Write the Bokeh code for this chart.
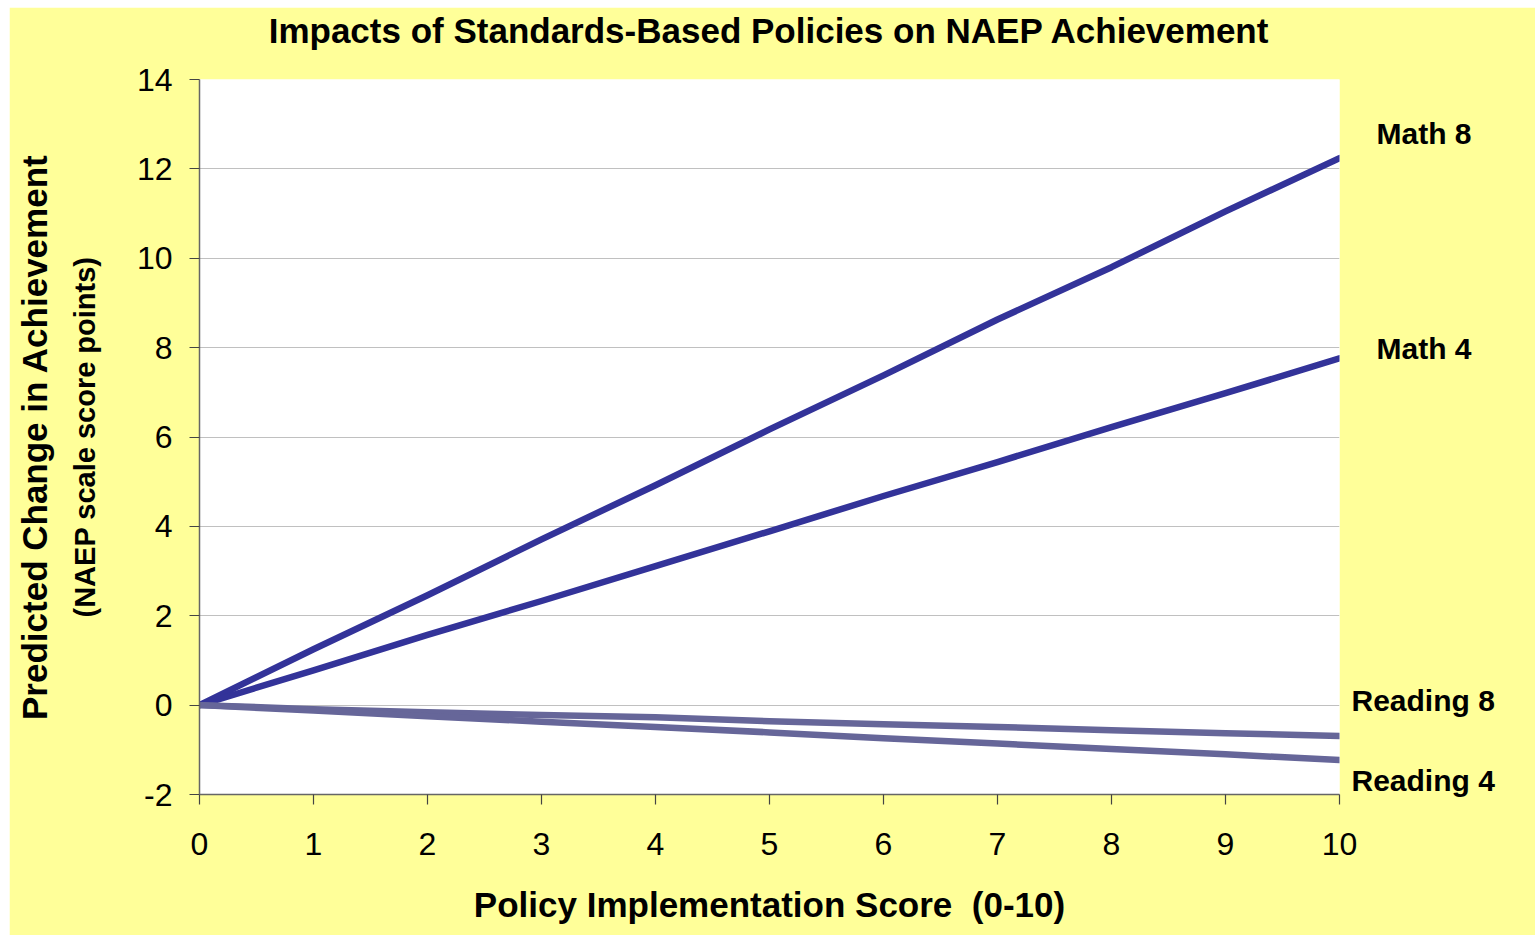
from bokeh.plotting import figure
from bokeh.models import Range1d, FixedTicker, LinearAxis, PrintfTickFormatter
from bokeh.embed import file_html
from bokeh.resources import INLINE

# ---- data ----
policy_score = [0, 1, 2, 3, 4, 5, 6, 7, 8, 9, 10]
math8 = [0, 1.25, 2.46, 3.71, 4.92, 6.17, 7.38, 8.63, 9.80, 11.05, 12.24]
math4 = [0, 0.78, 1.57, 2.33, 3.11, 3.89, 4.68, 5.44, 6.22, 6.98, 7.76]
reading8 = [0, -0.09, -0.16, -0.22, -0.27, -0.36, -0.43, -0.49, -0.56, -0.63, -0.69]
reading4 = [0, -0.12, -0.25, -0.37, -0.49, -0.61, -0.74, -0.86, -0.98, -1.10, -1.23]

series_names = ["Math 8", "Math 4", "Reading 8", "Reading 4"]
series_values = [math8, math4, reading8, reading4]
series_colors = ["#333399", "#333399", "#666699", "#666699"]
label_y = [12.80, 7.99, 0.11, -1.68]
label_text = ["\u00a0\u00a0\u00a0Math 8", "\u00a0\u00a0\u00a0Math 4", "Reading 8", "Reading 4"]

x_ticks = [0, 1, 2, 3, 4, 5, 6, 7, 8, 9, 10]
y_ticks = [-2, 0, 2, 4, 6, 8, 10, 12, 14]

TITLE = "Impacts of Standards-Based Policies on NAEP Achievement"
FONT = "Liberation Sans"

p = figure(width=1526, height=928, output_backend="svg", toolbar_location=None,
           x_range=Range1d(0, 10), y_range=Range1d(-2, 14))
p.margin = (7, 0, 0, 9)
p.min_border_left = 190
p.min_border_right = 196
p.min_border_top = 72
p.min_border_bottom = 141
p.border_fill_color = "#FFFF99"
p.background_fill_color = "white"
p.outline_line_color = None

# axes
for ax in (p.xaxis[0], p.yaxis[0]):
    ax.major_label_text_font = FONT
    ax.major_label_text_font_size = "32px"
    ax.major_label_text_color = "black"
    ax.axis_line_color = "#666666"
    ax.axis_line_width = 1.5
    ax.major_tick_line_color = "#444444"
    ax.major_tick_line_width = 1.2
    ax.major_tick_out = 10
    ax.major_tick_in = 0
    ax.minor_tick_line_color = None
    ax.formatter = PrintfTickFormatter(format="%d")

p.xaxis[0].ticker = FixedTicker(ticks=x_ticks)
p.yaxis[0].ticker = FixedTicker(ticks=y_ticks)
p.xaxis[0].major_label_standoff = 28
p.yaxis[0].major_label_standoff = 17

p.xaxis[0].axis_label = "Policy Implementation Score\u00a0\u00a0(0-10)"
p.xaxis[0].axis_label_text_font = FONT
p.xaxis[0].axis_label_text_font_size = "35px"
p.xaxis[0].axis_label_text_font_style = "bold"
p.xaxis[0].axis_label_text_color = "black"
p.xaxis[0].axis_label_standoff = 27

# y axis titles: inner line on the main axis, outer line on a bare extra axis
p.yaxis[0].axis_label = "(NAEP scale score points)"
p.yaxis[0].axis_label_text_font = FONT
p.yaxis[0].axis_label_text_font_size = "29px"
p.yaxis[0].axis_label_text_font_style = "bold"
p.yaxis[0].axis_label_text_color = "black"
p.yaxis[0].axis_label_standoff = 33

outer = LinearAxis(ticker=FixedTicker(ticks=[]), axis_label="Predicted Change in Achievement",
                   axis_line_color=None, major_tick_line_color=None, minor_tick_line_color=None,
                   major_tick_out=0, major_label_standoff=0, axis_label_standoff=12)
outer.axis_label_text_font = FONT
outer.axis_label_text_font_size = "35px"
outer.axis_label_text_font_style = "bold"
outer.axis_label_text_color = "black"
p.add_layout(outer, "left")

# chart title on a bare axis above the frame
top = LinearAxis(ticker=FixedTicker(ticks=[]), axis_label=TITLE,
                 axis_line_color=None, major_tick_line_color=None, minor_tick_line_color=None,
                 major_tick_out=0, major_label_standoff=0, axis_label_standoff=30)
top.axis_label_text_font = FONT
top.axis_label_text_font_size = "35px"
top.axis_label_text_font_style = "bold"
top.axis_label_text_color = "black"
p.add_layout(top, "above")

# series labels on a bare right axis
right = LinearAxis(ticker=FixedTicker(ticks=label_y),
                   major_label_overrides={v: t for v, t in zip(label_y, label_text)},
                   axis_line_color=None, major_tick_line_color=None, minor_tick_line_color=None,
                   major_tick_out=0, major_label_standoff=12)
right.major_label_text_font = FONT
right.major_label_text_font_size = "30px"
right.major_label_text_font_style = "bold"
right.major_label_text_color = "black"
p.add_layout(right, "right")

p.xgrid.grid_line_color = None
p.ygrid.grid_line_color = "#C0C0C0"
p.ygrid.grid_line_width = 1

# lines
for vals, col in zip(series_values, series_colors):
    p.line(policy_score, vals, line_color=col, line_width=6.5, line_cap="round", line_join="round")

open("out.html", "w").write(file_html(p, INLINE))
